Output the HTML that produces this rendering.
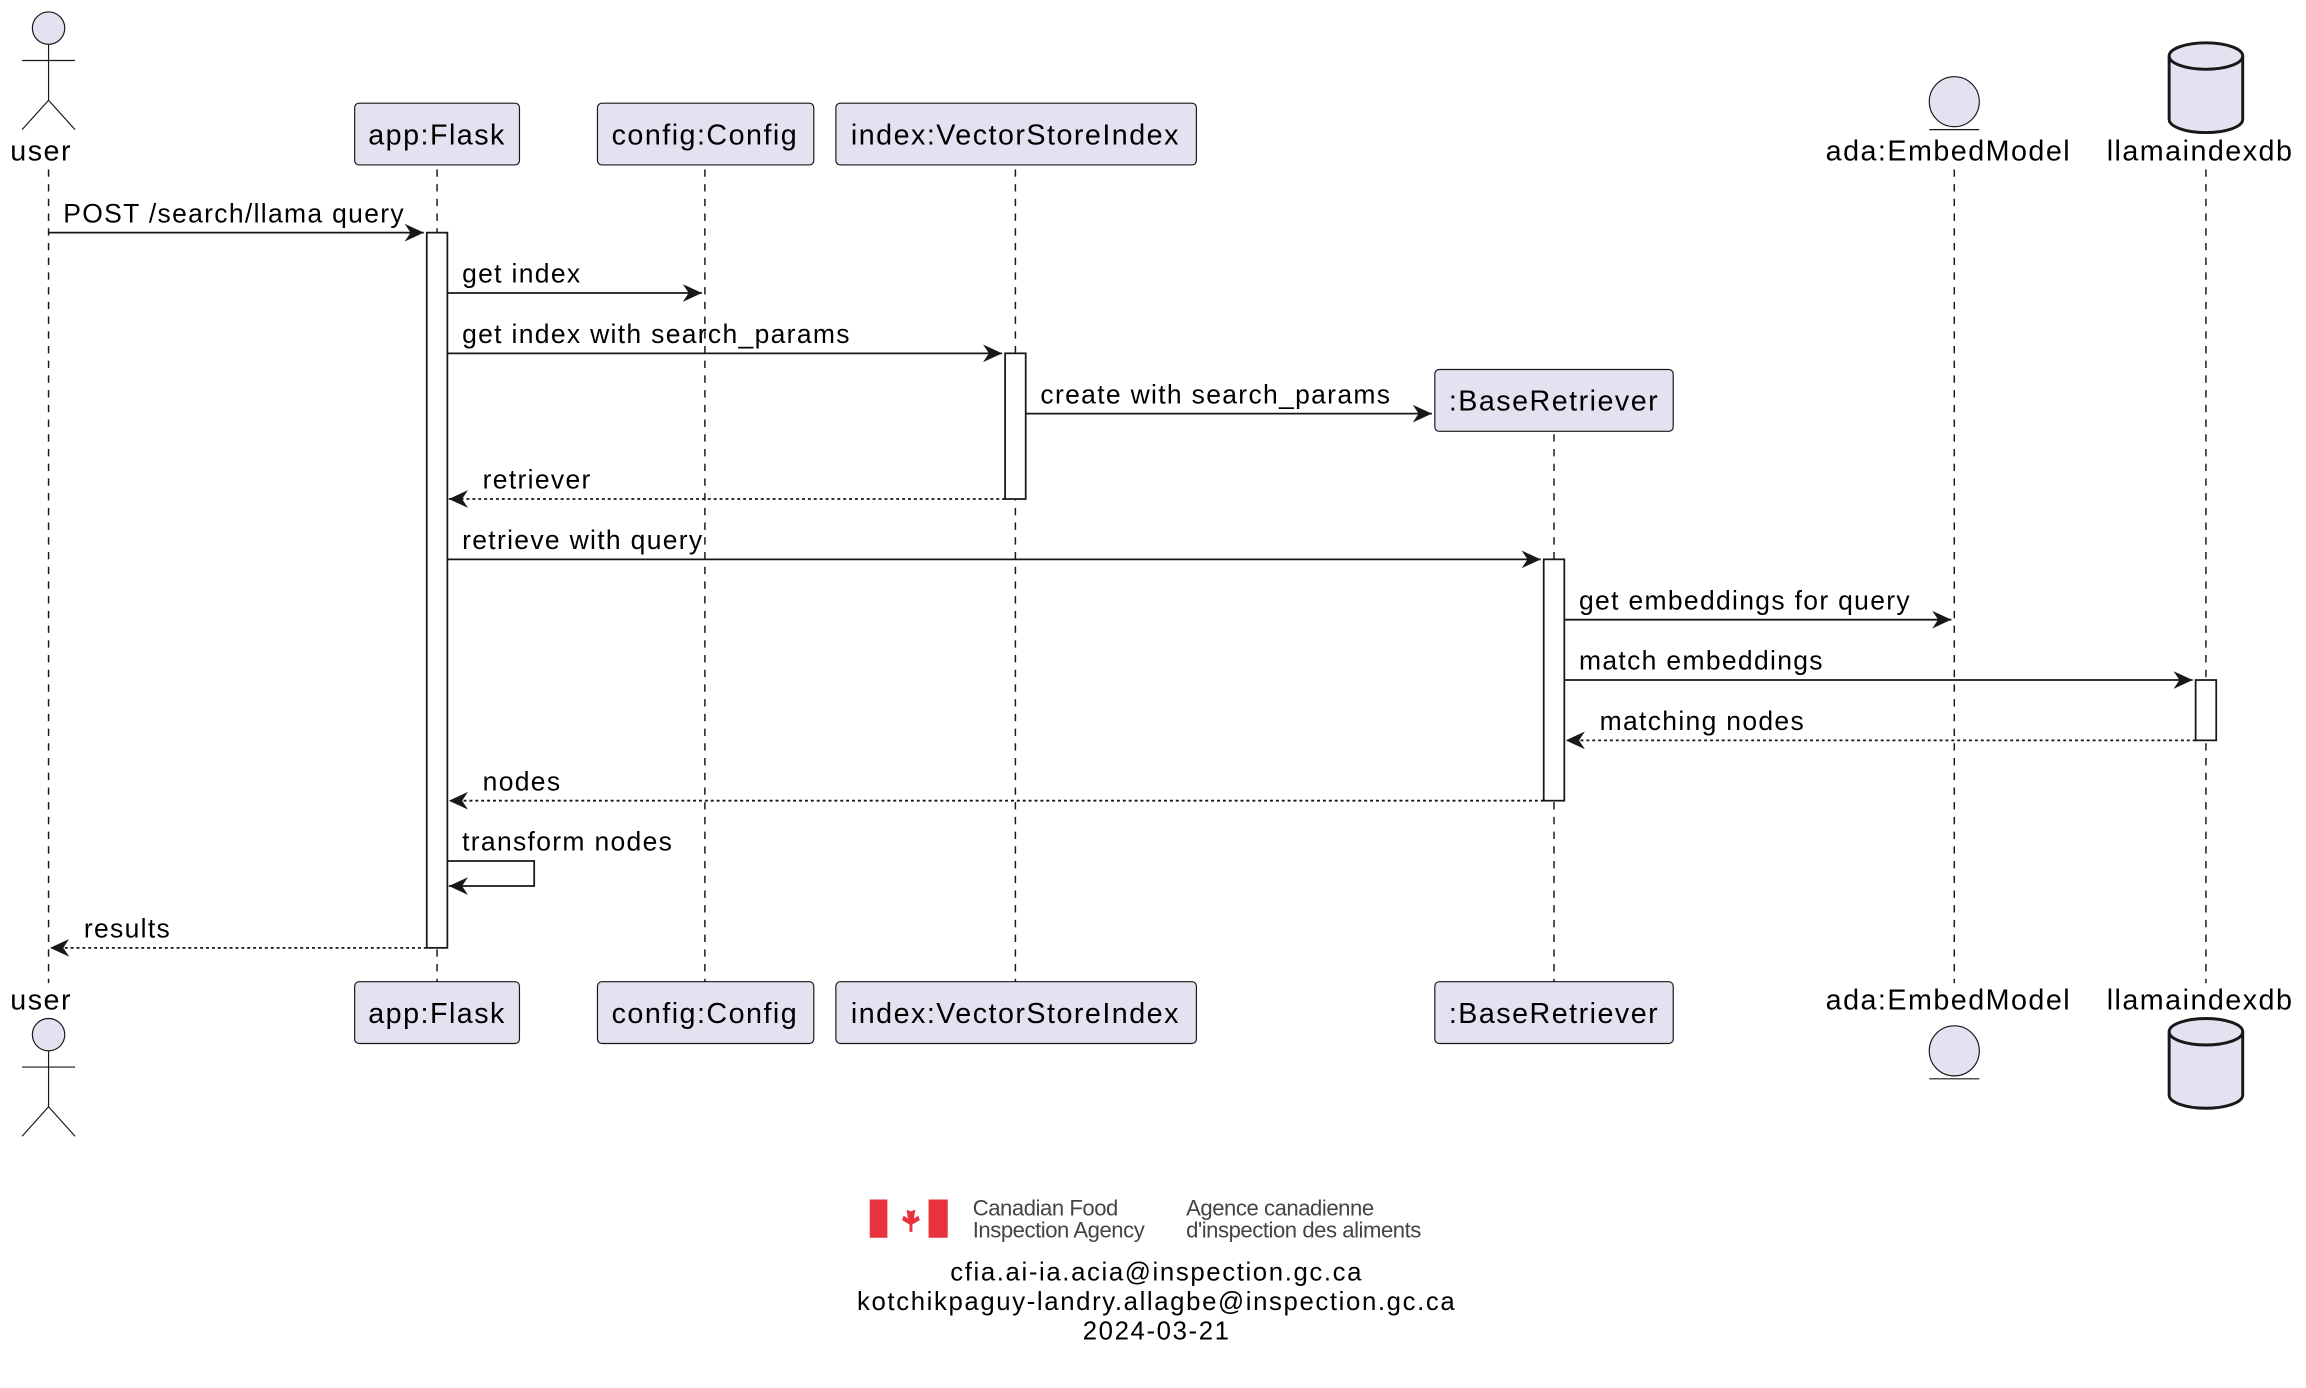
<!DOCTYPE html>
<html><head><meta charset="utf-8"><style>
html,body{margin:0;padding:0;background:#fff;}
svg{display:block;}
text{font-family:"Liberation Sans",sans-serif;fill:#000;}
.t{font-size:18px;letter-spacing:0.9px;}
.n{font-size:19.5px;letter-spacing:1px;}
.box{fill:#e2e2f0;stroke:#181818;stroke-width:0.8;}
.ll{stroke:#181818;stroke-width:1;stroke-dasharray:5,5;}
.m{stroke:#181818;stroke-width:1.2;fill:none;}
.d{stroke:#181818;stroke-width:1.2;fill:none;stroke-dasharray:2,2;}
.act{fill:#fff;stroke:#181818;stroke-width:1.2;}
</style></head><body>
<svg width="2306" height="1388" viewBox="0 0 1567 943" xmlns="http://www.w3.org/2000/svg">
<defs>
<marker id="a" markerWidth="14" markerHeight="12" refX="13" refY="6" orient="auto" markerUnits="userSpaceOnUse">
<path d="M0,0 L13,6 L0,12 L4,6 Z" fill="#181818"/></marker>
</defs>
<line class="ll" x1="33" y1="115" x2="33" y2="668"/>
<line class="ll" x1="297" y1="115" x2="297" y2="668"/>
<line class="ll" x1="479" y1="115" x2="479" y2="668"/>
<line class="ll" x1="690" y1="115" x2="690" y2="668"/>
<line class="ll" x1="1056" y1="295" x2="1056" y2="668"/>
<line class="ll" x1="1328" y1="115" x2="1328" y2="668"/>
<line class="ll" x1="1499" y1="115" x2="1499" y2="668"/>
<circle cx="33" cy="19" r="11" fill="#e2e2f0" stroke="#181818" stroke-width="0.8"/>
<path d="M33,30 V68 M15,41 H51 M33,68 L15,88 M33,68 L51,88" stroke="#181818" stroke-width="0.8" fill="none"/>
<text class="n" x="7" y="109">user</text>
<rect class="box" x="241" y="70" width="112" height="42" rx="3"/><text class="n" x="297" y="98" text-anchor="middle">app:Flask</text>
<rect class="box" x="406" y="70" width="147" height="42" rx="3"/><text class="n" x="479" y="98" text-anchor="middle">config:Config</text>
<rect class="box" x="568" y="70" width="245" height="42" rx="3"/><text class="n" x="690" y="98" text-anchor="middle">index:VectorStoreIndex</text>
<rect class="box" x="975" y="251" width="162" height="42" rx="3"/><text class="n" x="1056" y="279" text-anchor="middle">:BaseRetriever</text>
<circle cx="1328" cy="69" r="17" fill="#e2e2f0" stroke="#181818" stroke-width="0.8"/>
<line x1="1311" y1="88" x2="1345" y2="88" stroke="#181818" stroke-width="0.8"/>
<text class="n" x="1324" y="109" text-anchor="middle">ada:EmbedModel</text>
<path d="M1474,38 V81 A25,9 0 0 0 1524,81 V38 A25,9 0 0 0 1474,38 Z" fill="#e2e2f0" stroke="#181818" stroke-width="2"/>
<path d="M1474,38 A25,9 0 0 0 1524,38" fill="none" stroke="#181818" stroke-width="2"/>
<text class="n" x="1495" y="109" text-anchor="middle">llamaindexdb</text>
<rect class="act" x="290" y="158" width="14" height="486"/>
<rect class="act" x="683" y="240" width="14" height="99"/>
<rect class="act" x="1049" y="380" width="14" height="164"/>
<rect class="act" x="1492" y="462" width="14" height="41"/>
<line class="m" x1="33" y1="158" x2="288" y2="158" marker-end="url(#a)"/><text class="t" x="43" y="151">POST /search/llama query</text>
<line class="m" x1="304" y1="199" x2="477" y2="199" marker-end="url(#a)"/><text class="t" x="314" y="192">get index</text>
<line class="m" x1="304" y1="240" x2="681" y2="240" marker-end="url(#a)"/><text class="t" x="314" y="233">get index with search_params</text>
<line class="m" x1="697" y1="281" x2="973" y2="281" marker-end="url(#a)"/><text class="t" x="707" y="274">create with search_params</text>
<line class="d" x1="683" y1="339" x2="305" y2="339" marker-end="url(#a)"/><text class="t" x="328" y="332">retriever</text>
<line class="m" x1="304" y1="380" x2="1047" y2="380" marker-end="url(#a)"/><text class="t" x="314" y="373">retrieve with query</text>
<line class="m" x1="1063" y1="421" x2="1326" y2="421" marker-end="url(#a)"/><text class="t" x="1073" y="414">get embeddings for query</text>
<line class="m" x1="1063" y1="462" x2="1490" y2="462" marker-end="url(#a)"/><text class="t" x="1073" y="455">match embeddings</text>
<line class="d" x1="1492" y1="503" x2="1064" y2="503" marker-end="url(#a)"/><text class="t" x="1087" y="496">matching nodes</text>
<line class="d" x1="1049" y1="544" x2="305" y2="544" marker-end="url(#a)"/><text class="t" x="328" y="537">nodes</text>
<path class="m" d="M304,585 H363 V602 H305" marker-end="url(#a)"/><text class="t" x="314" y="578">transform nodes</text>
<line class="d" x1="290" y1="644" x2="34" y2="644" marker-end="url(#a)"/><text class="t" x="57" y="637">results</text>
<text class="n" x="7" y="686">user</text>
<circle cx="33" cy="703" r="11" fill="#e2e2f0" stroke="#181818" stroke-width="0.8"/>
<path d="M33,714 V752 M15,725 H51 M33,752 L15,772 M33,752 L51,772" stroke="#181818" stroke-width="0.8" fill="none"/>
<rect class="box" x="241" y="667" width="112" height="42" rx="3"/><text class="n" x="297" y="695" text-anchor="middle">app:Flask</text>
<rect class="box" x="406" y="667" width="147" height="42" rx="3"/><text class="n" x="479" y="695" text-anchor="middle">config:Config</text>
<rect class="box" x="568" y="667" width="245" height="42" rx="3"/><text class="n" x="690" y="695" text-anchor="middle">index:VectorStoreIndex</text>
<rect class="box" x="975" y="667" width="162" height="42" rx="3"/><text class="n" x="1056" y="695" text-anchor="middle">:BaseRetriever</text>
<text class="n" x="1324" y="686" text-anchor="middle">ada:EmbedModel</text>
<circle cx="1328" cy="714" r="17" fill="#e2e2f0" stroke="#181818" stroke-width="0.8"/>
<line x1="1311" y1="733" x2="1345" y2="733" stroke="#181818" stroke-width="0.8"/>
<text class="n" x="1495" y="686" text-anchor="middle">llamaindexdb</text>
<path d="M1474,701 V744 A25,9 0 0 0 1524,744 V701 A25,9 0 0 0 1474,701 Z" fill="#e2e2f0" stroke="#181818" stroke-width="2"/>
<path d="M1474,701 A25,9 0 0 0 1524,701" fill="none" stroke="#181818" stroke-width="2"/>
<rect x="591" y="815" width="12" height="26" fill="#e8333f"/>
<rect x="631" y="815" width="13" height="26" fill="#e8333f"/>
<path d="M617,819 l2,4 3,-1 -1,6 3,-2 1,3 -5,3 0,5 -2,0 0,-5 -5,-3 1,-3 3,2 -1,-6 3,1 z" fill="#e8333f"/>
<text x="661" y="826" style="font-size:15px;fill:#444;letter-spacing:-0.3px">Canadian Food</text>
<text x="661" y="841" style="font-size:15px;fill:#444;letter-spacing:-0.3px">Inspection Agency</text>
<text x="806" y="826" style="font-size:15px;fill:#444;letter-spacing:-0.3px">Agence canadienne</text>
<text x="806" y="841" style="font-size:15px;fill:#444;letter-spacing:-0.3px">d'inspection des aliments</text>
<text x="786" y="870" text-anchor="middle" style="font-size:17.5px;letter-spacing:1.1px">cfia.ai-ia.acia@inspection.gc.ca</text>
<text x="786" y="890" text-anchor="middle" style="font-size:17.5px;letter-spacing:1.1px">kotchikpaguy-landry.allagbe@inspection.gc.ca</text>
<text x="786" y="910" text-anchor="middle" style="font-size:17.5px;letter-spacing:1.1px">2024-03-21</text>
</svg>
</body></html>
